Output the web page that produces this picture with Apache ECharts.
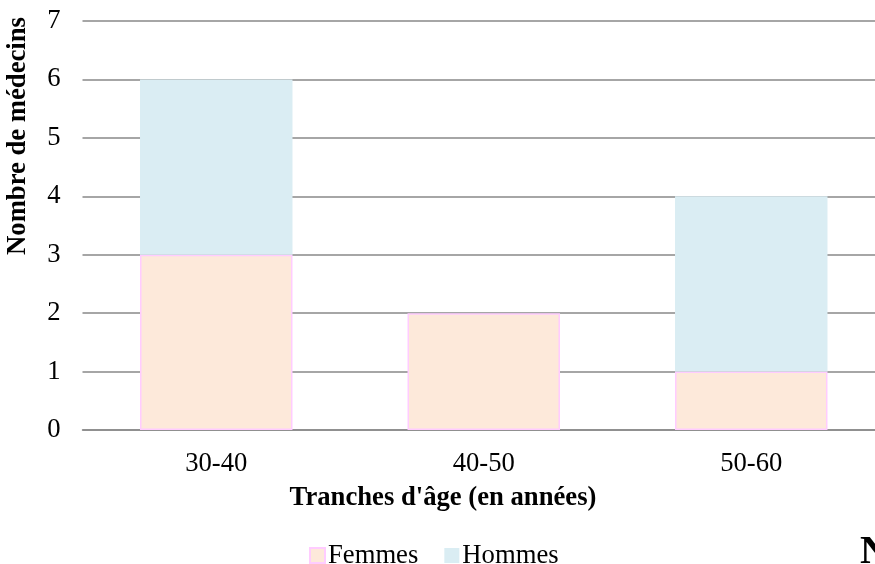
<!DOCTYPE html>
<html>
<head>
<meta charset="utf-8">
<script src="https://cdn.jsdelivr.net/npm/echarts@6/dist/echarts.min.js"></script>
<style>
  html, body { margin: 0; padding: 0; background: #fff; }
  #chart { width: 875px; height: 564px; }
</style>
</head>
<body>
<div id="chart"></div>
<script>
// tranches d'âge et effectifs
const categories = ['30-40', '40-50', '50-60']
const femmes = [3, 2, 1]
const hommes = [3, 0, 3]
const yTicks = [0, 7, 1] // min, max, interval

const chart = echarts.init(document.getElementById('chart'))
const serif = '"Liberation Serif", "Times New Roman", serif'
const fs = 20 * 4 / 3 // 20pt

const option = {
  animation: false,
  textStyle: { fontFamily: serif },
  grid: {
    left: 82.5, width: 802.5, top: 21, bottom: 134,
    containLabel: false, outerBoundsMode: 'none'
  },
  legend: {
    data: [
      { name: 'Femmes', icon: 'rect' },
      { name: 'Hommes', icon: 'rect' }
    ],
    left: 304,
    top: 537,
    itemWidth: 15,
    itemHeight: 15,
    itemGap: 26,
    textStyle: { fontFamily: serif, fontSize: fs, color: '#000', padding: [0, 0, 0, -2] }
  },
  xAxis: {
    type: 'category',
    data: categories,
    axisLine: { show: true, lineStyle: { color: '#898989', width: 1.5 } },
    axisTick: { show: false },
    axisLabel: { fontFamily: serif, fontSize: fs, color: '#000', margin: 20 }
  },
  yAxis: {
    type: 'value',
    min: yTicks[0],
    max: yTicks[1],
    interval: yTicks[2],
    axisLine: { show: false },
    axisTick: { show: false },
    axisLabel: { fontFamily: serif, fontSize: fs, color: '#000', margin: 22 },
    splitLine: { lineStyle: { color: '#898989', width: 1.5 } }
  },
  series: [
    {
      name: 'Femmes',
      type: 'bar',
      stack: 'total',
      barWidth: '57%',
      data: femmes,
      itemStyle: { color: '#fde9da', borderColor: '#ffccff', borderWidth: 1.5 }
    },
    {
      name: 'Hommes',
      type: 'bar',
      stack: 'total',
      data: hommes.map(v => v === 0 ? null : v),
      itemStyle: { color: '#daedf3', borderWidth: 0 }
    }
  ],
  graphic: [
    {
      type: 'text',
      x: 18,
      y: 136,
      rotation: Math.PI / 2,
      style: {
        text: 'Nombre de médecins',
        font: 'bold ' + fs + 'px ' + serif,
        fill: '#000',
        align: 'center',
        verticalAlign: 'middle'
      }
    },
    {
      type: 'text',
      x: 443,
      y: 498,
      style: {
        text: "Tranches d'âge (en années)",
        font: 'bold ' + fs + 'px ' + serif,
        fill: '#000',
        align: 'center',
        verticalAlign: 'middle'
      }
    },
    {
      type: 'text',
      x: 860,
      y: 533,
      style: {
        text: 'N',
        font: 'bold 40px ' + serif,
        fill: '#000',
        align: 'left',
        verticalAlign: 'top'
      }
    }
  ]
}
chart.setOption(option)
</script>
</body>
</html>
